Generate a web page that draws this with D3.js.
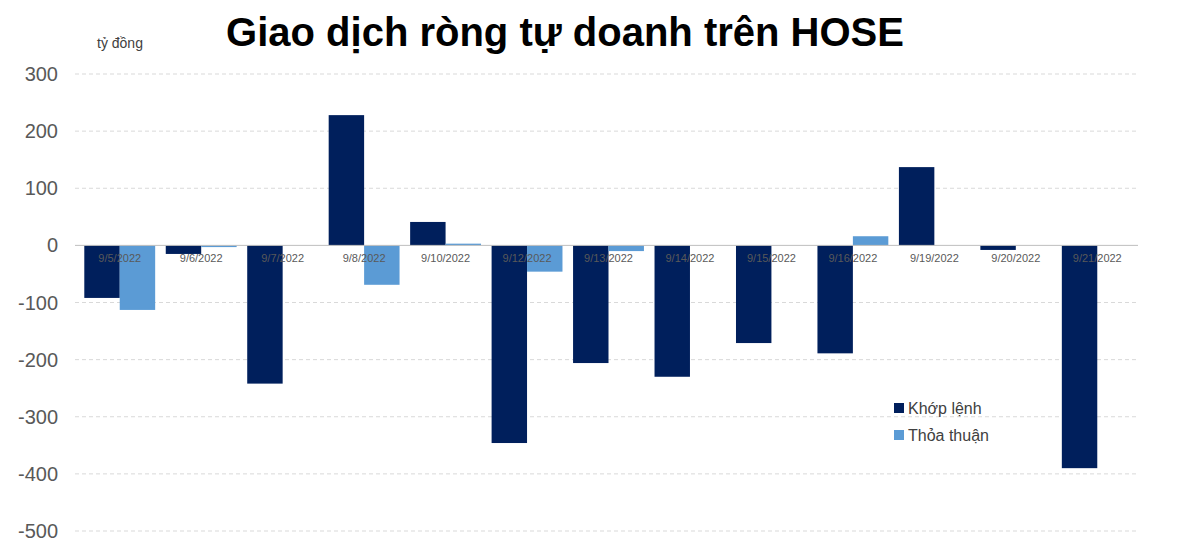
<!DOCTYPE html>
<html><head><meta charset="utf-8">
<script src="https://cdn.jsdelivr.net/npm/d3@7"></script>
<style>body{margin:0;background:#fff}</style>
</head><body>
<svg id="chart" width="1200" height="552"></svg>
<script>
var dates = ["9/5/2022","9/6/2022","9/7/2022","9/8/2022","9/10/2022","9/12/2022","9/13/2022","9/14/2022","9/15/2022","9/16/2022","9/19/2022","9/20/2022","9/21/2022"]
var khopLenh = [-92,-15,-242,228,41,-346,-206,-230,-171,-189,137,-8,-390]
var thoaThuan = [-113,-3,0,-69,3,-46,-10,0,0,16,0,0,0]
var yTicks = [300,200,100,0,-100,-200,-300,-400,-500]
var seriesNames = ["Khớp lệnh","Thỏa thuận"]
var colors = ["#001f5c","#5b9bd5"]

var svg = d3.select('#chart')
var x = d3.scaleBand().domain(dates).range([79,1138]).paddingInner(0.13).paddingOuter(0.065)
var y = d3.scaleLinear().domain([-500,300]).range([531,74])

// gridlines
svg.selectAll('line.grid').data(yTicks.filter(function(d){return d!=0})).enter().append('line')
	.attr('x1',75).attr('x2',1138)
	.attr('y1',function(d){return y(d)}).attr('y2',function(d){return y(d)})
	.attr('stroke','#d9d9d9').attr('stroke-dasharray','4,3')

svg.selectAll('text.ytick').data(yTicks).enter().append('text')
	.attr('x',58).attr('y',function(d){return y(d)+7})
	.attr('text-anchor','end').attr('font-family','Liberation Sans, Arial').attr('font-size',20).attr('fill','#595959')
	.text(function(d){return d})

var bw = x.bandwidth()/2
var series = [khopLenh,thoaThuan]
series.forEach(function(vals,s){
	svg.selectAll('rect.s'+s).data(vals).enter().append('rect')
		.attr('x',function(d,i){return x(dates[i])+s*bw})
		.attr('width',bw)
		.attr('y',function(d){return y(Math.max(d,0))})
		.attr('height',function(d){return Math.abs(y(d)-y(0))})
		.attr('fill',colors[s])
})

svg.append('line').attr('x1',75).attr('x2',1138).attr('y1',y(0)).attr('y2',y(0)).attr('stroke','#bfbfbf')

svg.selectAll('text.xl').data(dates).enter().append('text')
	.attr('x',function(d){return x(d)+x.bandwidth()/2}).attr('y',y(0)+17)
	.attr('text-anchor','middle').attr('font-family','Liberation Sans, Arial').attr('font-size',11).attr('fill','#595959')
	.text(function(d){return d})

svg.append('text').attr('x',565).attr('y',46).attr('text-anchor','middle')
	.attr('font-family','Liberation Sans, Arial').attr('font-weight','bold').attr('font-size',40).attr('fill','#000')
	.text('Giao dịch ròng tự doanh trên HOSE')
svg.append('text').attr('x',97).attr('y',48).attr('font-family','Liberation Sans, Arial').attr('font-size',14).attr('fill','#404040').text('tỷ đồng')

seriesNames.forEach(function(n,i){
	svg.append('rect').attr('x',894).attr('y',403+i*27).attr('width',10).attr('height',10).attr('fill',colors[i])
	svg.append('text').attr('x',908).attr('y',414+i*27).attr('font-family','Liberation Sans, Arial').attr('font-size',16).attr('fill','#404040').text(n)
})
</script>
</body></html>
